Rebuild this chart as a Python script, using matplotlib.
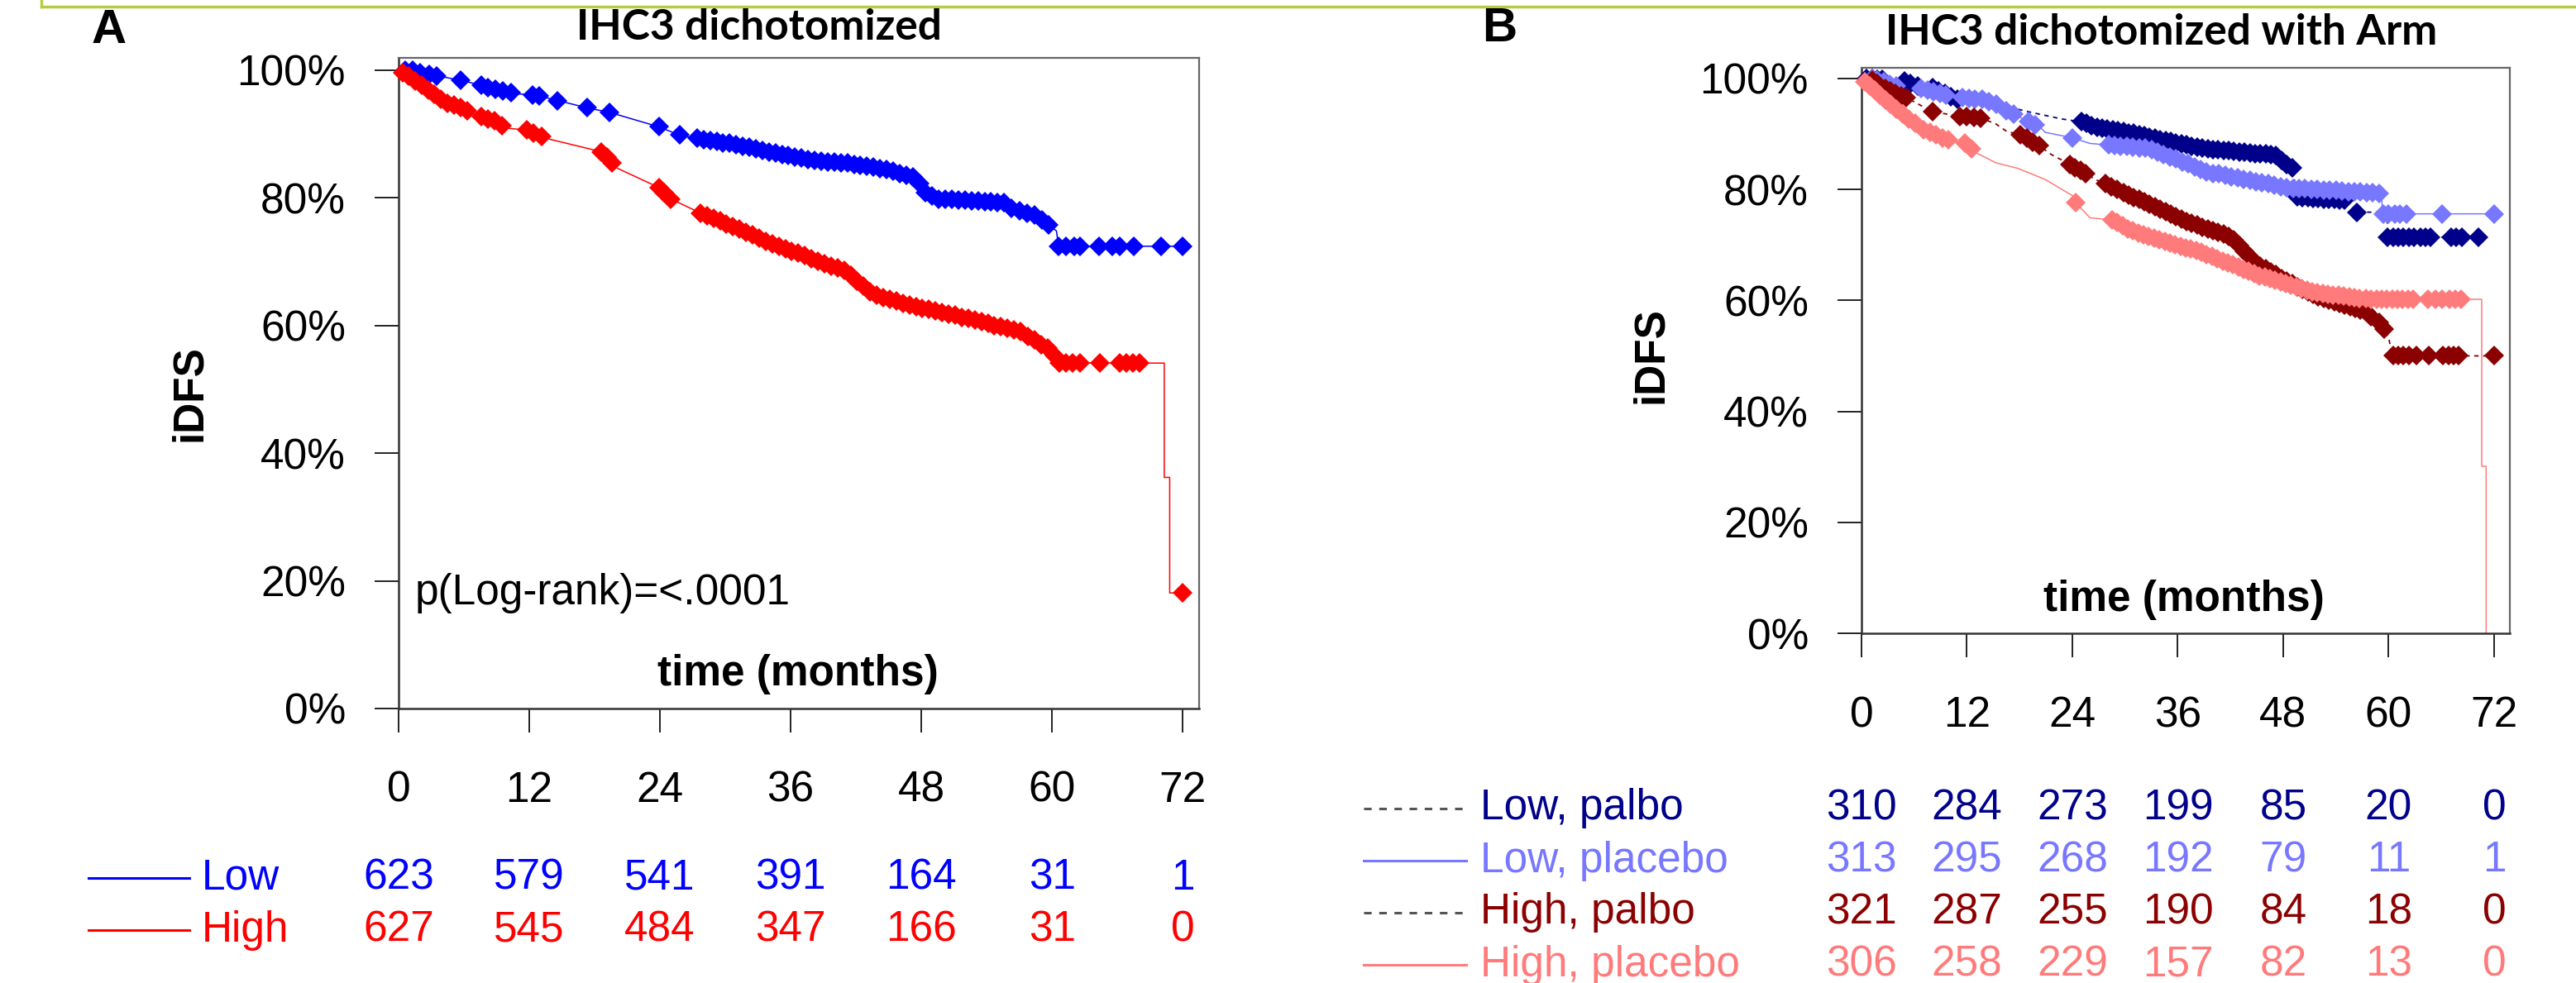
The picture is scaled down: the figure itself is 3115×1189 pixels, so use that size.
import matplotlib.pyplot as plt
from matplotlib.lines import Line2D
from matplotlib import transforms

plt.rcParams['font.family'] = ['Liberation Sans', 'DejaVu Sans']

W, H = 3115, 1189

months = [0, 12, 24, 36, 48, 60, 72]
pct_ticks = [0, 20, 40, 60, 80, 100]

# ---------------- panel A: IHC3 dichotomized ----------------
low_t = [0, 1.2, 3.5, 5.7, 7.6, 10.6, 12.5, 17.5, 19.3, 23.9, 25.8, 27.3, 31.4, 35.0, 38.2, 41.0,
         44.3, 47.3, 48.3, 49.5, 55.6, 56.3, 58.6, 59.2, 60.4, 60.6, 72.0]
low_s = [100, 99.9, 99.1, 98.4, 97.6, 96.3, 96.1, 94.0, 93.4, 91.1, 89.8, 89.3, 88.2, 86.8, 85.8, 85.4,
         84.6, 83.2, 81.0, 79.8, 79.3, 78.3, 77.2, 76.4, 74.8, 72.4, 72.4]
low_ct = [0.6, 1.3, 2.0, 2.8, 3.5, 5.7, 7.6, 8.2, 8.9, 9.6, 10.3, 12.3, 12.9, 14.6, 17.3, 19.4, 23.9, 25.8,
          27.4, 28.0, 28.6, 29.2, 29.8, 30.4, 31.0, 31.6, 32.2, 32.8, 33.4, 34.0, 34.6, 35.2, 35.8, 36.4,
          37.0, 37.6, 38.2, 38.8, 39.4, 40.0, 40.6, 41.2, 41.8, 42.4, 43.0, 43.6, 44.2, 44.8, 45.4, 46.0,
          46.6, 47.2, 47.8, 48.4, 49.0, 49.6, 50.2, 50.8, 51.4, 52.0, 52.6, 53.2, 53.8, 54.4, 55.0, 55.6,
          56.3, 57.0, 57.7, 58.4, 59.1, 59.7, 60.6, 61.3, 62.0, 62.6, 64.3, 65.5, 66.2, 67.5, 70.0, 72.0]
low_cs = [100, 99.9, 99.6, 99.3, 99.1, 98.4, 97.6, 97.3, 97.0, 96.7, 96.4, 96.1, 95.9, 95.2, 94.1, 93.4, 91.1, 89.8,
          89.3, 89.1, 88.9, 88.8, 88.6, 88.5, 88.3, 88.1, 87.9, 87.7, 87.4, 87.2, 87.0, 86.7, 86.6, 86.4,
          86.2, 86.0, 85.8, 85.7, 85.6, 85.6, 85.5, 85.4, 85.2, 85.1, 84.9, 84.8, 84.6, 84.4, 84.1, 83.8,
          83.5, 83.2, 82.2, 80.8, 80.3, 79.8, 79.7, 79.7, 79.6, 79.6, 79.5, 79.5, 79.4, 79.4, 79.3, 79.3,
          78.3, 77.9, 77.6, 77.3, 76.5, 75.8, 72.4, 72.4, 72.4, 72.4, 72.4, 72.4, 72.4, 72.4, 72.4, 72.4]

high_t = [0, 1.2, 4.2, 5.4, 7.3, 8.8, 9.9, 11.8, 13.3, 18.6, 20.1, 23.9, 25.0, 27.6, 31.0, 34.0, 38.2,
          41.0, 43.5, 46.5, 49.5, 53.0, 57.1, 59.7, 60.6, 70.3, 70.3, 70.8, 70.8, 72.0]
high_s = [100, 98.7, 95.0, 94.3, 92.8, 92.0, 90.9, 90.6, 89.4, 87.2, 84.6, 81.6, 79.8, 77.7, 75.3, 73.0, 70.3,
          68.5, 65.0, 63.3, 62.2, 60.8, 59.0, 56.3, 54.1, 54.1, 36.2, 36.2, 18.1, 18.1]
high_ct = [0.4, 0.9, 1.5, 2.1, 2.7, 3.3, 3.9, 4.5, 5.1, 5.7, 6.3, 7.6, 8.2, 8.8, 9.5, 11.8, 12.4, 13.1,
           18.6, 19.1, 19.6, 23.9, 24.4, 25.0, 27.7, 28.3, 28.9, 29.5, 30.1, 30.7, 31.3, 31.9, 32.5, 33.1,
           33.7, 34.3, 34.9, 35.5, 36.1, 36.7, 37.3, 37.9, 38.5, 39.1, 39.7, 40.3, 40.9, 41.5, 42.1, 42.7,
           43.3, 43.9, 44.5, 45.1, 45.7, 46.3, 46.9, 47.5, 48.1, 48.7, 49.3, 49.9, 50.5, 51.1, 51.7, 52.3,
           52.9, 53.5, 54.1, 54.7, 55.3, 55.9, 56.5, 57.1, 57.8, 58.4, 59.0, 59.6, 60.2, 60.7, 61.3, 61.9,
           62.6, 64.4, 66.2, 66.8, 67.4, 68.0, 72.0]
high_cs = [99.6, 99.0, 98.3, 97.6, 96.9, 96.2, 95.4, 94.8, 94.5, 94.1, 93.6, 92.7, 92.3, 92.0, 91.3, 90.6, 90.1, 89.6,
           87.2, 86.3, 85.5, 81.6, 80.8, 79.8, 77.6, 77.2, 76.8, 76.4, 75.9, 75.5, 75.1, 74.6, 74.2, 73.7,
           73.2, 72.8, 72.4, 72.0, 71.6, 71.3, 70.9, 70.5, 70.1, 69.7, 69.3, 69.0, 68.6, 67.8, 67.0, 66.1,
           65.3, 64.8, 64.4, 64.1, 63.8, 63.4, 63.2, 62.9, 62.7, 62.5, 62.3, 62.0, 61.8, 61.6, 61.3, 61.1,
           60.8, 60.6, 60.3, 60.0, 59.8, 59.5, 59.3, 59.0, 58.3, 57.7, 57.0, 56.4, 55.3, 54.1, 54.1, 54.1,
           54.1, 54.1, 54.1, 54.1, 54.1, 54.1, 18.1]

low_risk = [623, 579, 541, 391, 164, 31, 1]
high_risk = [627, 545, 484, 347, 166, 31, 0]

# ---------------- panel B: with Arm ----------------
lp_t = [0, 2.4, 4.9, 6.5, 8.1, 10.9, 15.9, 19.0, 22.8, 25.0, 26.6, 31.9, 39.1, 47.0, 49.2, 49.4,
        56.1, 56.3, 59.8, 59.9, 70.3]
lp_s = [100, 99.8, 99.5, 98.5, 98.3, 96.2, 95.2, 94.0, 92.7, 92.2, 91.3, 89.8, 87.3, 86.3, 83.8, 78.8,
        78.0, 75.9, 75.9, 71.4, 71.4]
lp_ct = [0.6, 1.2, 1.8, 2.4, 4.9, 5.6, 6.4, 8.1, 8.8, 9.5, 10.2, 10.9, 25.0, 25.6, 26.2, 26.8, 27.4,
         28.0, 28.6, 29.2, 29.8, 30.4, 31.0, 31.6, 32.2, 32.8, 33.4, 34.0, 34.6, 35.2, 35.8, 36.4, 37.0,
         37.6, 38.2, 38.8, 39.4, 40.0, 40.6, 41.2, 41.8, 42.4, 43.0, 43.6, 44.2, 44.8, 45.4, 46.0, 46.6,
         47.2, 47.8, 48.4, 49.0, 49.6, 50.2, 50.8, 51.4, 52.0, 52.6, 53.2, 53.8, 54.4, 55.0, 56.4, 59.9,
         60.5, 61.1, 61.7, 62.3, 62.9, 63.6, 64.2, 64.8, 67.1, 67.7, 68.3, 70.2]
lp_cs = [100, 100, 99.9, 99.8, 99.5, 99.1, 98.6, 98.3, 97.8, 97.3, 96.7, 96.2, 92.2, 91.9, 91.5, 91.2, 91.1,
         90.9, 90.8, 90.6, 90.4, 90.2, 90.1, 89.9, 89.7, 89.4, 89.2, 89.0, 88.8, 88.6, 88.4, 88.2, 88.0,
         87.8, 87.6, 87.4, 87.3, 87.2, 87.1, 87.0, 87.0, 86.9, 86.8, 86.7, 86.6, 86.5, 86.5, 86.4, 86.3,
         86.1, 85.2, 84.5, 83.9, 78.7, 78.6, 78.5, 78.4, 78.4, 78.3, 78.3, 78.2, 78.1, 78.1, 75.9, 71.4,
         71.4, 71.4, 71.4, 71.4, 71.4, 71.4, 71.4, 71.4, 71.4, 71.4, 71.4, 71.4]

lq_t = [0, 1.2, 4.0, 6.8, 10.0, 11.5, 13.7, 15.9, 17.8, 20.3, 20.9, 24.0, 26.0, 28.1, 32.8, 39.1, 48.5,
        59.2, 59.3, 72.0]
lq_s = [100, 100, 98.7, 98.2, 96.8, 96.5, 96.2, 95.0, 93.2, 91.3, 90.3, 89.3, 88.3, 88.0, 87.3, 83.3, 80.3,
        79.3, 75.6, 75.6]
lq_ct = [1.2, 1.8, 2.5, 3.2, 4.0, 6.8, 7.5, 8.2, 8.9, 9.6, 11.5, 12.2, 12.9, 13.7, 14.5, 15.3, 16.5, 17.3,
         19.0, 19.8, 24.0, 28.1, 28.8, 29.5, 30.2, 30.9, 31.6, 32.3, 33.0, 33.7, 34.4, 35.1, 35.8, 36.5,
         37.2, 37.9, 38.6, 39.3, 40.0, 40.7, 41.4, 42.1, 42.8, 43.5, 44.2, 44.9, 45.6, 46.3, 47.0, 47.7,
         48.4, 49.1, 49.8, 50.5, 51.2, 51.9, 52.6, 53.3, 54.0, 54.7, 55.4, 56.1, 56.8, 57.5, 58.2, 58.9,
         59.4, 60.0, 60.7, 61.3, 62.0, 66.1, 72.0]
lq_cs = [100, 99.7, 99.4, 99.0, 98.7, 98.2, 97.9, 97.6, 97.3, 97.0, 96.5, 96.4, 96.3, 96.2, 95.8, 95.3, 94.2, 93.6,
         92.3, 91.7, 89.3, 88.0, 87.9, 87.8, 87.7, 87.6, 87.5, 87.4, 87.2, 86.8, 86.3, 85.9, 85.5, 85.0,
         84.6, 84.1, 83.6, 83.2, 82.9, 82.8, 82.5, 82.3, 82.1, 81.8, 81.6, 81.4, 81.2, 81.0, 80.8, 80.5,
         80.3, 80.2, 80.2, 80.1, 80.0, 80.0, 79.9, 79.8, 79.8, 79.7, 79.6, 79.6, 79.5, 79.4, 79.4, 79.3,
         75.6, 75.6, 75.6, 75.6, 75.6, 75.6, 75.6]

hp_t = [0, 1.2, 2.7, 5.5, 8.1, 11.2, 13.7, 15.3, 16.5, 18.1, 20.3, 21.6, 23.4, 25.6, 26.6, 27.8, 29.8,
        33.0, 36.3, 40.0, 42.2, 44.9, 48.0, 51.9, 57.3, 58.9, 60.0, 60.4, 72.0]
hp_s = [100, 99.7, 98.2, 96.2, 94.0, 93.2, 92.8, 91.8, 90.5, 89.8, 87.8, 86.3, 84.8, 82.8, 81.8, 81.0, 79.4,
        77.2, 74.7, 72.6, 71.4, 66.7, 63.8, 60.7, 58.0, 56.1, 53.4, 50.0, 50.0]
hp_ct = [1.2, 1.8, 2.7, 3.3, 3.9, 4.5, 5.1, 8.1, 11.2, 12.0, 12.8, 13.6, 18.1, 18.8, 19.5, 20.2, 23.7,
         24.3, 24.9, 25.5, 27.8, 28.4, 29.1, 29.8, 30.4, 31.0, 31.6, 32.2, 32.8, 33.4, 34.0, 34.6, 35.2,
         35.8, 36.4, 37.0, 37.6, 38.2, 38.8, 39.4, 40.0, 40.6, 41.2, 41.8, 42.4, 43.0, 43.6, 44.2, 44.8,
         45.4, 46.0, 46.6, 47.2, 47.8, 48.4, 49.0, 49.6, 50.2, 50.8, 51.4, 52.0, 52.6, 53.2, 53.8, 54.4,
         55.0, 55.6, 56.2, 56.8, 57.4, 58.0, 58.9, 59.5, 60.5, 61.1, 61.7, 62.3, 63.2, 64.6, 66.2, 66.8,
         67.4, 68.0, 72.0]
hp_cs = [99.7, 99.1, 98.2, 97.8, 97.3, 96.9, 96.5, 94.0, 93.2, 93.1, 93.0, 92.8, 89.8, 89.2, 88.5, 87.9, 84.5,
         83.9, 83.4, 82.9, 81.0, 80.5, 80.0, 79.4, 79.0, 78.6, 78.2, 77.8, 77.3, 76.9, 76.5, 76.0, 75.6,
         75.1, 74.6, 74.2, 73.9, 73.6, 73.2, 72.9, 72.6, 72.3, 72.0, 71.6, 71.0, 69.9, 68.9, 67.8, 66.8,
         66.2, 65.7, 65.1, 64.6, 64.0, 63.5, 63.0, 62.5, 62.0, 61.5, 61.1, 60.7, 60.4, 60.0, 59.7, 59.4,
         59.1, 58.8, 58.5, 58.2, 57.9, 57.1, 56.1, 54.8, 50.0, 50.0, 50.0, 50.0, 50.0, 50.0, 50.0, 50.0,
         50.0, 50.0, 50.0]

hq_t = [0, 0.8, 3.0, 6.2, 7.1, 10.0, 11.8, 12.8, 15.3, 17.8, 20.9, 24.1, 24.4, 26.0, 28.5, 30.3, 32.8,
        39.1, 45.4, 51.7, 57.9, 70.6, 70.6, 71.1, 71.1]
hq_s = [100, 98.7, 95.7, 91.8, 90.8, 88.8, 88.3, 86.8, 84.8, 83.8, 81.8, 78.8, 77.6, 74.9, 74.5, 72.9, 71.4,
        68.4, 64.4, 61.4, 60.2, 60.2, 30.1, 30.1, 0]
hq_ct = [0.4, 0.9, 1.5, 2.1, 2.7, 3.3, 4.0, 4.7, 5.4, 6.1, 7.1, 7.8, 8.5, 9.2, 9.9, 11.8, 12.5, 24.4,
         28.5, 29.1, 29.7, 30.3, 30.9, 31.5, 32.1, 32.7, 33.3, 33.9, 34.5, 35.1, 35.7, 36.3, 36.9, 37.5,
         38.1, 38.7, 39.3, 39.9, 40.5, 41.1, 41.7, 42.3, 42.9, 43.5, 44.1, 44.7, 45.3, 45.9, 46.5, 47.1,
         47.7, 48.3, 48.9, 49.5, 50.1, 50.7, 51.3, 51.9, 52.5, 53.1, 53.7, 54.3, 54.9, 55.5, 56.1, 56.7,
         57.4, 58.0, 58.6, 59.2, 59.8, 60.4, 61.0, 61.6, 62.2, 62.8, 64.5, 65.3, 66.1, 66.9, 67.6, 68.2]
hq_cs = [99.4, 98.6, 97.9, 97.0, 96.1, 95.3, 94.5, 93.6, 92.7, 91.9, 90.8, 90.3, 89.8, 89.3, 88.9, 88.3, 87.3, 77.6,
         74.5, 74.0, 73.5, 72.9, 72.5, 72.1, 71.8, 71.5, 71.2, 71.0, 70.7, 70.4, 70.1, 69.8, 69.5, 69.3,
         69.0, 68.7, 68.3, 67.9, 67.5, 67.1, 66.7, 66.4, 66.0, 65.6, 65.2, 64.8, 64.4, 64.2, 63.9, 63.6,
         63.3, 63.0, 62.7, 62.4, 62.2, 61.9, 61.6, 61.4, 61.2, 61.1, 61.0, 60.9, 60.8, 60.7, 60.5, 60.4,
         60.3, 60.2, 60.2, 60.2, 60.2, 60.2, 60.2, 60.2, 60.2, 60.2, 60.2, 60.2, 60.2, 60.2, 60.2, 60.2]

lp_risk = [310, 284, 273, 199, 85, 20, 0]
lq_risk = [313, 295, 268, 192, 79, 11, 1]
hp_risk = [321, 287, 255, 190, 84, 18, 0]
hq_risk = [306, 258, 229, 157, 82, 13, 0]


def fx(x):
    return x / W


def fy(y):
    return 1 - y / H


fig = plt.figure(figsize=(W / 100, H / 100), dpi=100)

axA = fig.add_axes([fx(482), fy(857), 968 / W, 787 / H])
axB = fig.add_axes([fx(2251), fy(766), 784 / W, 684.5 / H])


def style_axes(ax, xmax, ymax):
    ax.set_xlim(0, xmax)
    ax.set_ylim(0, ymax)
    ax.set_xticks(months)
    ax.set_xticklabels([str(m) for m in months])
    ax.set_yticks(pct_ticks)
    ax.set_yticklabels([f"{p}%" for p in pct_ticks])
    ax.tick_params(axis="both", direction="out", length=21, width=1.4, colors="#222222",
                   labelsize=37, labelcolor="black")
    ax.tick_params(axis="y", pad=25)
    ax.tick_params(axis="x", pad=33)
    for side in ["left", "bottom"]:
        ax.spines[side].set_color("#333333")
        ax.spines[side].set_linewidth(1.8)
    for side in ["top", "right"]:
        ax.spines[side].set_color("#666666")
        ax.spines[side].set_linewidth(1.6)


def km(ax, t, s, ct, cs, color, dashed=False):
    if dashed:
        ax.plot(t, s, color=color, lw=1.3, dashes=(3, 3), zorder=2, clip_on=False)
    else:
        ax.plot(t, s, color=color, lw=1.1, zorder=2, clip_on=False)
    ax.plot(ct, cs, ls="none", marker="D", ms=12.5, mew=0, color=color, zorder=3, clip_on=False)


style_axes(axA, 73.5, 101.9)
style_axes(axB, 73.8, 102.0)

BLUE, RED = "#0000ff", "#ff0000"
NAVY, LBLUE, DRED, LRED = "#00008b", "#7777ff", "#8b0000", "#ff7b7b"

km(axA, low_t, low_s, low_ct, low_cs, BLUE)
km(axA, high_t, high_s, high_ct, high_cs, RED)

km(axB, lp_t, lp_s, lp_ct, lp_cs, NAVY, dashed=True)
km(axB, lq_t, lq_s, lq_ct, lq_cs, LBLUE)
km(axB, hp_t, hp_s, hp_ct, hp_cs, DRED, dashed=True)
km(axB, hq_t, hq_s, hq_ct, hq_cs, LRED)

# titles and labels
fig.text(fx(132), fy(37), "A", fontsize=42, fontweight="bold", ha="center", va="center")
fig.text(fx(1813), fy(35), "B", fontsize=42, fontweight="bold", ha="center", va="center")
fig.text(fx(918), fy(33), "IHC3 dichotomized", fontsize=37, fontweight="bold",
         family=["Lato", "DejaVu Sans"], ha="center", va="center")
fig.text(fx(2614), fy(40), "IHC3 dichotomized with Arm", fontsize=37, fontweight="bold",
         family=["Lato", "DejaVu Sans"], ha="center", va="center")
fig.text(fx(229), fy(476), "iDFS", fontsize=37, fontweight="bold", rotation=90, ha="center", va="center")
fig.text(fx(1996), fy(430), "iDFS", fontsize=37, fontweight="bold", rotation=90, ha="center", va="center")
fig.text(fx(965), fy(815), "time (months)", fontsize=37, fontweight="bold", ha="center", va="center")
fig.text(fx(2641), fy(726), "time (months)", fontsize=37, fontweight="bold", ha="center", va="center")
fig.text(fx(502), fy(717), "p(Log-rank)=<.0001", fontsize=37, ha="left", va="center")


# number-at-risk tables
def risk_row(ax, y, label, counts, color, x0, x1, xt, dashed=False):
    tr = transforms.blended_transform_factory(ax.transData, fig.transFigure)
    for m, n in zip(months, counts):
        ax.text(m, fy(y), str(n), transform=tr, fontsize=37, color=color,
                ha="center", va="center", clip_on=False)
    if dashed:
        ln = Line2D([fx(x0), fx(x1)], [fy(y), fy(y)], transform=fig.transFigure,
                    color="#555555", lw=2.2, dashes=(3, 3))
    else:
        ln = Line2D([fx(x0), fx(x1)], [fy(y), fy(y)], transform=fig.transFigure, color=color, lw=2.2)
    fig.add_artist(ln)
    fig.text(fx(xt), fy(y), label, fontsize=37, color=color, ha="left", va="center")


risk_row(axA, 1062, "Low", low_risk, BLUE, 107, 229, 244)
risk_row(axA, 1125, "High", high_risk, RED, 107, 229, 244)

risk_row(axB, 978, "Low, palbo", lp_risk, NAVY, 1649, 1773, 1790, dashed=True)
risk_row(axB, 1041, "Low, placebo", lq_risk, LBLUE, 1649, 1773, 1790)
risk_row(axB, 1104, "High, palbo", hp_risk, DRED, 1649, 1773, 1790, dashed=True)
risk_row(axB, 1167, "High, placebo", hq_risk, LRED, 1649, 1773, 1790)

# green frame edge at the top
green = "#b7cc42"
fig.add_artist(Line2D([fx(50), 1], [fy(8), fy(8)], transform=fig.transFigure, color=green, lw=2.5))
fig.add_artist(Line2D([fx(50), fx(50)], [1, fy(8)], transform=fig.transFigure, color=green, lw=2.5))

fig.savefig("out.png", dpi=100)
